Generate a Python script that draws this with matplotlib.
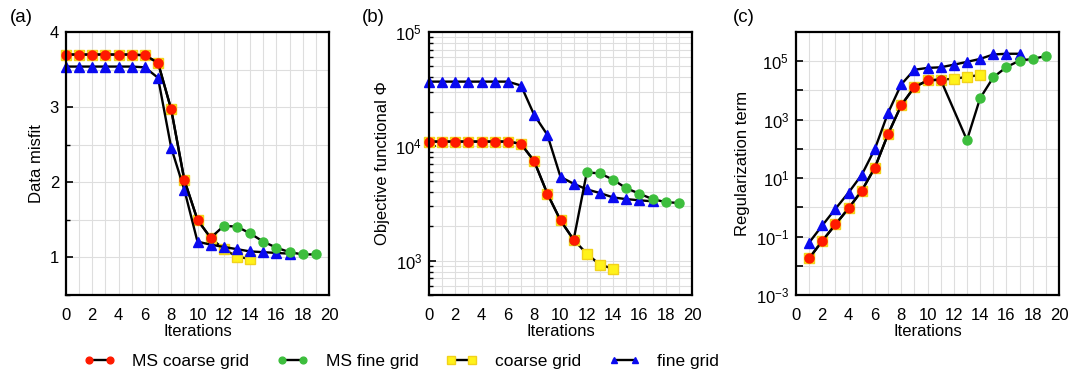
import numpy as np
import matplotlib
matplotlib.use("Agg")
import matplotlib.pyplot as plt
from matplotlib.ticker import MultipleLocator, LogLocator, NullFormatter, FixedLocator

plt.rcParams["font.family"] = "Liberation Sans"
plt.rcParams["font.size"] = 11
plt.rcParams["mathtext.fontset"] = "custom"
plt.rcParams["mathtext.rm"] = "Liberation Sans"
plt.rcParams["mathtext.it"] = "Liberation Sans"
plt.rcParams["mathtext.default"] = "regular"

# ---- (a) data misfit ----
a_ms_coarse_x = [0, 1, 2, 3, 4, 5, 6, 7, 8, 9, 10, 11]
a_ms_coarse = [3.70, 3.70, 3.70, 3.70, 3.70, 3.70, 3.69, 3.59, 2.97, 2.03, 1.50, 1.26]
a_ms_fine_x = [11, 12, 13, 14, 15, 16, 17, 18, 19]
a_ms_fine = [1.26, 1.42, 1.41, 1.32, 1.21, 1.13, 1.07, 1.04, 1.04]
a_coarse_x = [0, 1, 2, 3, 4, 5, 6, 7, 8, 9, 10, 11, 12, 13, 14]
a_coarse = [3.70, 3.70, 3.70, 3.70, 3.70, 3.70, 3.69, 3.59, 2.97, 2.03, 1.50, 1.26, 1.11, 1.01, 0.98]
a_fine_x = [0, 1, 2, 3, 4, 5, 6, 7, 8, 9, 10, 11, 12, 13, 14, 15, 16, 17]
a_fine = [3.54, 3.54, 3.54, 3.54, 3.54, 3.54, 3.53, 3.39, 2.46, 1.90, 1.21, 1.17, 1.14, 1.11, 1.08, 1.07, 1.06, 1.05]

# ---- (b) objective functional ----
b_ms_coarse_x = [0, 1, 2, 3, 4, 5, 6, 7, 8, 9, 10, 11]
b_ms_coarse = [1.1e4, 1.1e4, 1.1e4, 1.1e4, 1.1e4, 1.1e4, 1.1e4, 1.05e4, 7.4e3, 3.85e3, 2.25e3, 1.52e3]
b_ms_fine_x = [11, 12, 13, 14, 15, 16, 17, 18, 19]
b_ms_fine = [1.52e3, 5.9e3, 5.8e3, 5.1e3, 4.3e3, 3.85e3, 3.45e3, 3.25e3, 3.19e3]
b_coarse_x = [0, 1, 2, 3, 4, 5, 6, 7, 8, 9, 10, 11, 12, 13, 14]
b_coarse = [1.1e4, 1.1e4, 1.1e4, 1.1e4, 1.1e4, 1.1e4, 1.1e4, 1.05e4, 7.4e3, 3.85e3, 2.25e3, 1.52e3,
            1.15e3, 9.2e2, 8.5e2]
b_fine_x = [0, 1, 2, 3, 4, 5, 6, 7, 8, 9, 10, 11, 12, 13, 14, 15, 16, 17]
b_fine = [3.68e4, 3.68e4, 3.68e4, 3.68e4, 3.68e4, 3.68e4, 3.68e4, 3.4e4, 1.88e4, 1.26e4, 5.4e3, 4.7e3,
          4.2e3, 3.9e3, 3.57e3, 3.45e3, 3.37e3, 3.3e3]

# ---- (c) regularization term ----
c_ms_coarse_x = [1, 2, 3, 4, 5, 6, 7, 8, 9, 10, 11]
c_ms_coarse = [0.018, 0.071, 0.26, 0.93, 3.7, 23, 320, 3.1e3, 1.3e4, 2.2e4, 2.35e4]
c_ms_fine_x = [11, 13, 14, 15, 16, 17, 18, 19]
c_ms_fine = [2.35e4, 2.0e2, 5.4e3, 2.8e4, 6.3e4, 1.05e5, 1.2e5, 1.5e5]
c_coarse_x = [1, 2, 3, 4, 5, 6, 7, 8, 9, 10, 11, 12, 13, 14]
c_coarse = [0.018, 0.071, 0.26, 0.93, 3.7, 23, 320, 3.1e3, 1.3e4, 2.2e4, 2.35e4, 2.5e4, 2.9e4, 3.4e4]
c_fine_x = [1, 2, 3, 4, 5, 6, 7, 8, 9, 10, 11, 12, 13, 14, 15, 16, 17]
c_fine = [0.062, 0.24, 0.89, 3.2, 13, 100, 1.7e3, 1.6e4, 5.1e4, 5.9e4, 6.2e4, 7.6e4, 9.5e4, 1.2e5,
          1.7e5, 1.8e5, 1.8e5]

styles = {
    "MS coarse grid": dict(marker="o", markerfacecolor="#FF1A00", markeredgecolor="#FF1A00", markersize=6.5, zorder=5),
    "MS fine grid": dict(marker="o", markerfacecolor="#3DBE3D", markeredgecolor="#3DBE3D", markersize=6.5, zorder=4),
    "coarse grid": dict(marker="s", markerfacecolor="#FFF21A", markeredgecolor="#F2D21A", markersize=7.5, zorder=2),
    "fine grid": dict(marker="^", markerfacecolor="#0A0AF0", markeredgecolor="#0A0AF0", markersize=6.5, zorder=3),
}

fig = plt.figure(figsize=(10.72, 3.76), dpi=100)
w = 263 / 1072
h = (295 - 32) / 376
bottom = 1 - 295 / 376
ax_a = fig.add_axes([66 / 1072, bottom, w, h])
ax_b = fig.add_axes([429 / 1072, bottom, w, h])
ax_c = fig.add_axes([796 / 1072, bottom, w, h])


def draw(ax, series):
    handles = []
    for label, xs, ys in series:
        ln, = ax.plot(xs, ys, color="black", linewidth=1.7, label=label, clip_on=False, **styles[label])
        handles.append(ln)
    return handles


def style_axes(ax):
    ax.set_xlim(0, 20)
    ax.xaxis.set_major_locator(MultipleLocator(2))
    ax.xaxis.set_minor_locator(MultipleLocator(1))
    ax.grid(True, which="both", color="#DEDEDE", linewidth=0.8)
    ax.set_axisbelow(True)
    for sp in ax.spines.values():
        sp.set_linewidth(1.6)
        sp.set_zorder(6)
    ax.tick_params(axis="both", which="both", direction="in", labelsize=12)
    ax.tick_params(axis="x", which="both", length=0, pad=9)
    ax.tick_params(axis="y", which="major", length=5, width=1.2, pad=5)
    ax.tick_params(axis="y", which="minor", length=3, width=1.0)
    ax.set_xlabel("Iterations", fontsize=12, labelpad=1)


handles = draw(ax_a, [
    ("coarse grid", a_coarse_x, a_coarse),
    ("fine grid", a_fine_x, a_fine),
    ("MS fine grid", a_ms_fine_x, a_ms_fine),
    ("MS coarse grid", a_ms_coarse_x, a_ms_coarse),
])
style_axes(ax_a)
ax_a.set_ylim(0.5, 4)
ax_a.yaxis.set_major_locator(MultipleLocator(1))
ax_a.yaxis.set_minor_locator(MultipleLocator(0.5))
ax_a.set_ylabel("Data misfit", fontsize=12)

draw(ax_b, [
    ("coarse grid", b_coarse_x, b_coarse),
    ("fine grid", b_fine_x, b_fine),
    ("MS fine grid", b_ms_fine_x, b_ms_fine),
    ("MS coarse grid", b_ms_coarse_x, b_ms_coarse),
])
style_axes(ax_b)
ax_b.set_yscale("log")
ax_b.set_ylim(500, 1e5)
ax_b.yaxis.set_major_locator(LogLocator(base=10, numticks=10))
ax_b.yaxis.set_minor_locator(LogLocator(base=10, subs=np.arange(2, 10), numticks=20))
ax_b.yaxis.set_minor_formatter(NullFormatter())
ax_b.set_ylabel("Objective functional \u03a6", fontsize=12)

draw(ax_c, [
    ("coarse grid", c_coarse_x, c_coarse),
    ("fine grid", c_fine_x, c_fine),
    ("MS fine grid", c_ms_fine_x, c_ms_fine),
    ("MS coarse grid", c_ms_coarse_x, c_ms_coarse),
])
style_axes(ax_c)
ax_c.set_yscale("log")
ax_c.set_ylim(1e-3, 1e6)
ax_c.yaxis.set_major_locator(FixedLocator([1e-3, 1e-1, 1e1, 1e3, 1e5]))
ax_c.yaxis.set_minor_locator(FixedLocator([1e-2, 1e0, 1e2, 1e4]))
ax_c.yaxis.set_minor_formatter(NullFormatter())
ax_c.yaxis.set_major_formatter(plt.FuncFormatter(lambda v, p: r"$10^{%d}$" % round(np.log10(v))))
ax_c.tick_params(axis="y", which="minor", length=5, width=1.2)
ax_c.set_ylabel("Regularization term", fontsize=12)

for lab, x in [("(a)", 10), ("(b)", 362), ("(c)", 733)]:
    fig.text(x / 1072, 1 - 17 / 376, lab, fontsize=13.5, va="center", ha="left")

order = ["MS coarse grid", "MS fine grid", "coarse grid", "fine grid"]
hmap = {hd.get_label(): hd for hd in handles}
fig.legend([hmap[k] for k in order], order, loc="center", bbox_to_anchor=(0.3745, 1 - 361 / 376),
           ncol=4, frameon=False, numpoints=2, markerscale=0.75, handlelength=1.8,
           columnspacing=1.6, fontsize=12.5, handletextpad=1.0)

fig.savefig("out.png", dpi=100)
